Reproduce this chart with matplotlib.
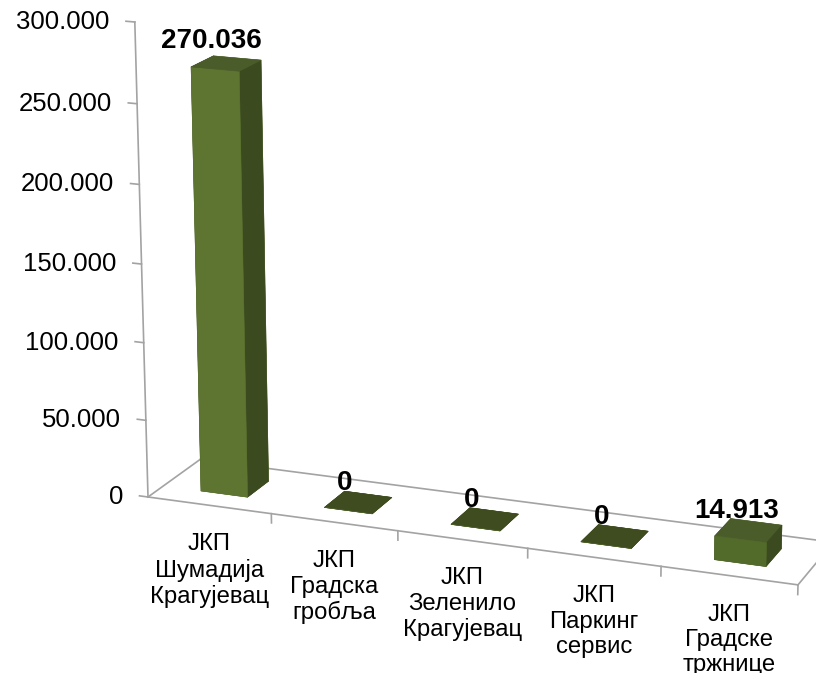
import numpy as np
import matplotlib.pyplot as plt

plt.rcParams['font.family'] = ['Liberation Sans', 'DejaVu Sans']

categories = ["ЈКП\nШумадија\nКрагујевац", "ЈКП\nГрадска\nгробља",
              "ЈКП\nЗеленило\nКрагујевац", "ЈКП\nПаркинг\nсервис",
              "ЈКП\nГрадске\nтржнице"]
values = [270036, 0, 0, 0, 14913]
value_labels = ["270.036", "0", "0", "0", "14.913"]
z_ticks = [0, 50000, 100000, 150000, 200000, 250000, 300000]
z_tick_labels = ["0", "50.000", "100.000", "150.000", "200.000", "250.000", "300.000"]

W, H = 816, 673
fig = plt.figure(figsize=(W / 100, H / 100), dpi=100)
ax = fig.add_axes([0, 0, 600 / W, 600 / H], projection="3d")
ax.set_proj_type("persp", focal_length=0.8)
ax.view_init(elev=16.5, azim=-69)
ax.set_axis_off()

n = len(values)
ax.set_xlim(0, n)
ax.set_ylim(0, 1)
ax.set_zlim(0, 300000)

gray = "#a3a3a3"
front = "#5d7530"
side = "#3b4a1f"
top = "#4a5c2a"
flat = "#3f4c1f"

# bars: faces -z, +z, -y, +y, -x, +x
bw, bd = 0.38, 0.42
xs = np.arange(n) + 0.5 - bw / 2
ys = np.full(n, 0.5 - bd / 2)
face_cols = []
for v in values:
    t = top if v > 0 else flat
    f = front if v > 50000 else "#526a2a"
    face_cols += [t, t, f, f, side, side]
ax.bar3d(xs, ys, np.zeros(n), bw, bd, values, color=face_cols,
         edgecolor=face_cols, linewidth=0.4, shade=False)

# floor and axis lines
ax.plot([0, n], [0, 0], [0, 0], color=gray, lw=1.2)
ax.plot([0, n], [1, 1], [0, 0], color=gray, lw=1.2)
ax.plot([0, 0], [0, 1], [0, 0], color=gray, lw=1.2)
ax.plot([n, n], [0, 1], [0, 0], color=gray, lw=1.2)
ax.plot([0, 0], [0, 0], [0, 300000], color=gray, lw=1.2)
for t in z_ticks:
    ax.plot([-0.07, 0], [0, 0], [t, t], color=gray, lw=1.2)
for i in range(1, n + 1):
    ax.plot([i, i], [0, 0], [0, -6000], color=gray, lw=1.2)


def px(x, y, z):
    p = ax.get_proj() @ np.array([x, y, z, 1.0])
    return ax.transData.transform((p[0] / p[3], p[1] / p[3]))


# fit the box so the floor and axis land where the original has them
aspect = [5.56, 1.0, 3.88]
for _ in range(6):
    ax.set_box_aspect(aspect)
    fig.canvas.draw()
    pos = ax.get_position()
    ox, oy, S = pos.x0 * W, pos.y0 * H, pos.width * W
    pa, pb, pc = px(0, 0, 0), px(n, 0, 0), px(0, 0, 300000)
    s = (798 - 148) / (pb[0] - pa[0])
    S2 = S * s
    qa = (pa - np.array([ox, oy])) / S
    nx0 = 148 - S2 * qa[0]
    ny0 = (H - 497) - S2 * qa[1]
    ax.set_position([nx0 / W, ny0 / H, S2 / W, S2 / H])
    aspect[2] *= 475 / ((pc[1] - pa[1]) * s)
fig.canvas.draw()


def put(x, y, z, dx, dy, s, **kw):
    p = px(x, y, z)
    fig.text((p[0] + dx) / W, (p[1] + dy) / H, s, **kw)


for t, lab in zip(z_ticks, z_tick_labels):
    put(0, 0, t, -25, 0, lab, ha="right", va="center", fontsize=18.5)

for i, cat in enumerate(categories):
    put(i + 0.5, 0, 0, 0, -28, cat, ha="center", va="top", fontsize=17.2,
        linespacing=1.2)

for i, (v, lab) in enumerate(zip(values, value_labels)):
    put(i + 0.5, ys[i], v, -4, 28, lab, ha="center", va="center",
        fontsize=20, fontweight="bold")

fig.savefig("out.png", dpi=100, facecolor="white")
